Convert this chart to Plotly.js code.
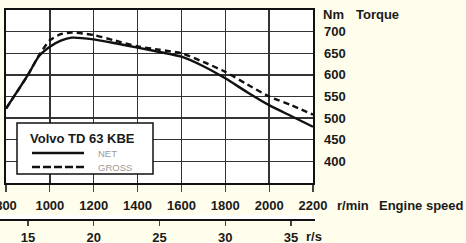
<!DOCTYPE html>
<html>
<head>
<meta charset="utf-8">
<script src="https://cdn.plot.ly/plotly-3.0.1.min.js"></script>
<style>html,body{margin:0;padding:0;background:#fffdec;}#chart{width:466px;height:243px;}</style>
</head>
<body>
<div id="chart"></div>
<script>
// Engine speed (r/min)
const rpm = [800, 900, 950, 1000, 1050, 1100, 1200, 1300, 1400, 1500, 1600, 1700, 1800, 1900, 2000, 2100, 2200];
// Torque, Nm
const netTorque   = [522, 600, 643, 665, 679, 686, 682, 673, 663, 653, 642, 620, 592, 560, 530, 505, 480];
const grossTorque = [522, 600, 645, 680, 694, 698, 692, 679, 666, 658, 650, 630, 607, 578, 550, 530, 508];
const rpmTicks = [800, 1000, 1200, 1400, 1600, 1800, 2000, 2200];
const torqueTicks = [400, 450, 500, 550, 600, 650, 700];
const rsTicks = [15, 20, 25, 30, 35];
const legendTitle = 'Volvo TD 63 KBE';
const seriesNames = ['NET', 'GROSS'];

const W = 466, H = 243;
const mL = 0, mR = 151, mT = 10, mB = 0;
const pw = W - mL - mR, ph = H - mT - mB;
const frameL = 6, frameR = 313, frameT = 10, frameB = 183, rsLineY = 219;
const px = v => (v - mL) / pw;          // pixel x -> paper
const py = v => (H - mB - v) / ph;      // pixel y -> paper
const xDom = [px(frameL), px(frameR)];
const yDom = [py(frameB), py(frameT)];
const y2Dom = [py(rsLineY), py(rsLineY - 4)];
// r/s axis spans whole plot width; range aligned with rpm scale
const pxPerRpm = (frameR - frameL) / (rpm[rpm.length - 1] - rpm[0]);
const rpmAt0 = rpm[0] - (frameL - mL) / pxPerRpm;
const rpmAtW = rpm[0] + (pw + mL - frameL) / pxPerRpm;

const FAM = 'Liberation Sans, Arial, sans-serif';
const fontB = {family: FAM, size: 13, color: '#1a1a1a', weight: 'bold'};
const fontS = {family: FAM, size: 9.5, color: '#9a9a9a'};

const traces = [
  {x: rpm, y: netTorque, name: seriesNames[0], mode: 'lines', type: 'scatter',
   line: {color: '#111', width: 2.4, shape: 'spline', smoothing: 0.6}},
  {x: rpm, y: grossTorque, name: seriesNames[1], mode: 'lines', type: 'scatter',
   line: {color: '#111', width: 2.4, dash: '6px,4px', shape: 'spline', smoothing: 0.6}},
  {x: [rpmAt0 / 60, rpmAtW / 60], y: [0, 0], xaxis: 'x2', yaxis: 'y2', mode: 'lines',
   showlegend: false, hoverinfo: 'skip', line: {width: 0}}
];

const shapes = [
  {type: 'rect', xref: 'paper', yref: 'paper', x0: px(17), x1: px(153), y0: py(123), y1: py(174),
   fillcolor: '#ffffff', line: {color: '#111', width: 1.5}, layer: 'above'},
  {type: 'line', xref: 'paper', yref: 'paper', x0: px(32), x1: px(84), y0: py(153), y1: py(153),
   line: {color: '#111', width: 2.4}},
  {type: 'line', xref: 'paper', yref: 'paper', x0: px(32), x1: px(84), y0: py(167), y1: py(167),
   line: {color: '#111', width: 2.4, dash: '8px,3px'}}
];

const layout = {
  width: W, height: H,
  margin: {l: mL, r: mR, t: mT, b: mB, pad: 0},
  paper_bgcolor: '#fffdec', plot_bgcolor: '#ffffff',
  showlegend: false,
  xaxis: {
    domain: xDom, range: [rpm[0], rpm[rpm.length - 1]],
    tickvals: rpmTicks, ticks: 'outside', ticklen: 7, tickwidth: 1.2, tickcolor: '#444',
    tickfont: fontB, ticklabelstandoff: 2, ticklabeloverflow: 'allow',
    showgrid: true, gridcolor: '#333', gridwidth: 1.4,
    showline: true, linecolor: '#111', linewidth: 2.4, mirror: true,
    zeroline: false, fixedrange: true
  },
  yaxis: {
    domain: yDom, range: [350, 750], side: 'right',
    tickvals: torqueTicks, ticks: '', tickfont: fontB, ticklabelstandoff: 6,
    showgrid: true, gridcolor: '#333', gridwidth: 1.4,
    showline: true, linecolor: '#111', linewidth: 2.4, mirror: true,
    zeroline: false, fixedrange: true
  },
  xaxis2: {
    domain: [0, 1], anchor: 'y2', range: [rpmAt0 / 60, rpmAtW / 60], side: 'bottom',
    tickvals: rsTicks, ticks: 'outside', ticklen: 5, tickwidth: 1.2, tickcolor: '#444',
    tickfont: fontB, ticklabelstandoff: 0, ticklabeloverflow: 'allow',
    showgrid: false, showline: true, linecolor: '#111', linewidth: 2.2,
    zeroline: false, fixedrange: true
  },
  yaxis2: {domain: y2Dom, visible: false, range: [0, 1], fixedrange: true},
  shapes: shapes,
  annotations: [
    {text: 'Nm', xref: 'paper', yref: 'paper', x: px(321), y: py(15),
     xanchor: 'left', yanchor: 'middle', showarrow: false, font: fontB},
    {text: 'Torque', xref: 'paper', yref: 'paper', x: px(354), y: py(15),
     xanchor: 'left', yanchor: 'middle', showarrow: false, font: fontB},
    {text: 'r/min', xref: 'paper', yref: 'paper', x: px(335), y: py(205),
     xanchor: 'left', yanchor: 'middle', showarrow: false, font: fontB},
    {text: 'Engine speed', xref: 'paper', yref: 'paper', x: px(377), y: py(205),
     xanchor: 'left', yanchor: 'middle', showarrow: false, font: fontB},
    {text: 'r/s', xref: 'paper', yref: 'paper', x: px(304), y: py(236),
     xanchor: 'left', yanchor: 'middle', showarrow: false, font: fontB},
    {text: legendTitle, xref: 'paper', yref: 'paper', x: px(28), y: py(138),
     xanchor: 'left', yanchor: 'middle', showarrow: false, font: fontB},
    {text: seriesNames[0], xref: 'paper', yref: 'paper', x: px(96), y: py(153),
     xanchor: 'left', yanchor: 'middle', showarrow: false, font: fontS},
    {text: seriesNames[1], xref: 'paper', yref: 'paper', x: px(96), y: py(167),
     xanchor: 'left', yanchor: 'middle', showarrow: false, font: fontS}
  ]
};

Plotly.newPlot('chart', traces, layout, {displayModeBar: false, staticPlot: true});
</script>
</body>
</html>
